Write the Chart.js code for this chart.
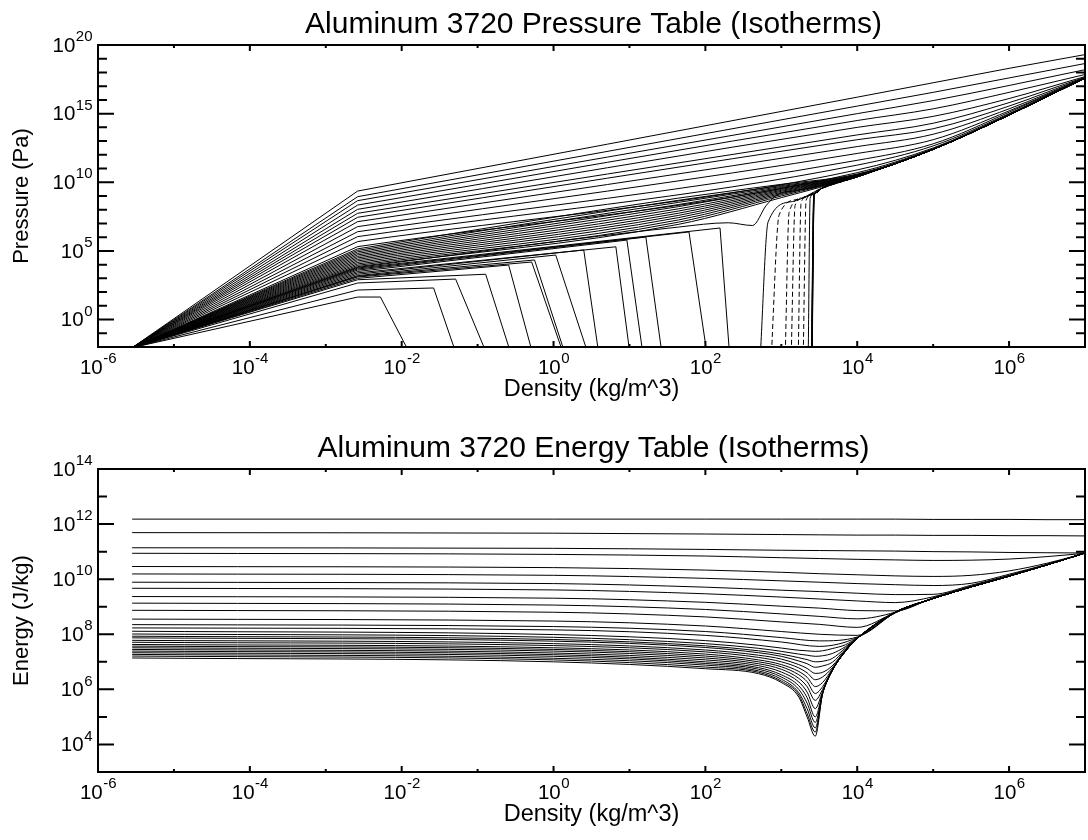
<!DOCTYPE html>
<html>
<head>
<meta charset="utf-8">
<title>Aluminum 3720 isotherms</title>
<script src="https://cdn.jsdelivr.net/npm/chart.js@4.4.1/dist/chart.umd.min.js"></script>
<style>
  html, body { margin: 0; padding: 0; background: #fff; }
  canvas { display: block; }
</style>
</head>
<body>
<canvas id="pressureChart" width="1088" height="420" style="width:1088px;height:420px"></canvas>
<canvas id="energyChart" width="1088" height="420" style="width:1088px;height:420px"></canvas>
<script>
// Valores, guardados como exponentes de 10 (log10)

// Ejes
const densityTicks = [-6, -4, -2, 0, 2, 4, 6];
const densityMinorTicks = [-5, -3, -1, 1, 3, 5];
const pressureTicks = [0, 5, 10, 15, 20];
const pressureMinorTicks = [-1, 1, 2, 3, 4, 6, 7, 8, 9, 11, 12, 13, 14, 16, 17, 18, 19];
const energyTicks = [4, 6, 8, 10, 12, 14];
const energyMinorTicks = [5, 7, 9, 11, 13];

// ---------- Tabla de presión ----------
// Punto común de arranque de todas las isotermas
const pressureStart = [-5.55, -2.05];
const kneeDensity = -2.58;

// Isotermas calientes: codo y valores en rho = 1e4, 1e5, 1e6, 1e7
const hotKnee = [9.36, 8.95, 8.66, 8.34, 8.03, 7.74, 7.45, 7.13, 6.77, 6.40, 6.04, 5.68, 5.31];
const hotAt1e4 = [16.2, 15.55, 15.0, 14.5, 14.0, 13.45, 13.1, 12.6, 12.1, 11.6, 11.25, 10.9, 10.7];
const hotAt1e5 = [17.25, 16.55, 15.95, 15.35, 14.8, 14.3, 13.9, 13.5, 13.1, 12.8, 12.65, 12.5, 12.45];
const hotAt1e6 = [18.3, 17.6, 17.05, 16.55, 16.1, 15.8, 15.55, 15.35, 15.2, 15.1, 15.0, 14.95, 14.92];
const hotAt1e7 = [19.3, 18.65, 18.2, 17.85, 17.7, 17.65, 17.62, 17.6, 17.6, 17.6, 17.6, 17.6, 17.6];

// Banda gris: codo y valores en rho = 45, 1e3, 1e4
const bandKnee = [5.15, 5.04, 4.93, 4.82, 4.71, 4.60, 4.49, 4.38, 4.27, 4.16, 4.05, 3.95, 3.86];
const bandAt45 = [8.85, 8.69, 8.54, 8.38, 8.23, 8.07, 7.91, 7.75, 7.59, 7.43, 7.26, 7.10, 6.94];
const bandAt1e3 = [9.85, 9.76, 9.69, 9.62, 9.55, 9.48, 9.41, 9.34, 9.26, 9.18, 9.10, 9.00, 8.88];
const bandAt1e4 = [10.6, 10.57, 10.54, 10.52, 10.5, 10.49, 10.48, 10.47, 10.46, 10.45, 10.44, 10.43, 10.42];

// Isoterma con el valle antes de la densidad del sólido
const criticalLine = [[-2.58, 3.8], [1.65, 6.74], [2.3, 7.05], [2.62, 6.85], [2.8, 8.3], [2.95, 9.1], [3.2, 9.4], [3.53, 9.75], [4, 10.42]];

// Curva fría común (rho, P)
const coldDensities = [3.53, 4, 5, 6, 7];
const coldPressure = [9.55, 10.4, 12.4, 14.9, 17.6];

// Rama de vapor: codo, borde del tramo plano y caída
const vaporKnee = [1.64, 2.15, 2.66, 2.9, 3.0, 3.1, 3.15, 3.2, 3.3, 3.4, 3.5, 3.6, 3.68, 3.75];
const vaporEdgeDensity = [-2.28, -1.58, -1.29, -0.894, -0.591, -0.288, -0.25, 0.029, 0.398, 0.821, 0.966, 1.216, 1.784, 2.193];
const vaporEdgePressure = [1.64, 2.30, 2.95, 3.30, 3.97, 4.19, 4.34, 4.70, 5.07, 5.30, 5.79, 6.01, 6.38, 6.67];
const vaporDropDensity = [-1.844, -1.251, -0.842, -0.532, -0.25, 0.161, 0.181, 0.484, 0.609, 1.018, 1.19, 1.441, 2.034, 2.325];

// Rama líquida: pie, tope del tramo vertical y unión con la curva fría
const liquidFoot = [3.406, 3.404, 3.402, 3.40, 3.40, 3.398, 3.396, 3.354, 3.288, 3.222, 3.129, 3.05, 2.865, 2.72];
const liquidTopDensity = [3.433, 3.433, 3.432, 3.43, 3.43, 3.428, 3.427, 3.38, 3.327, 3.261, 3.182, 3.103, 2.971, 2.826];
const liquidTopPressure = [9.0, 9.0, 9.0, 9.0, 9.0, 9.0, 9.0, 8.85, 8.7, 8.56, 8.34, 7.83, 7.62, 7.11];
const liquidJoinDensity = [3.46, 3.46, 3.46, 3.46, 3.46, 3.46, 3.46, 3.43, 3.41, 3.38, 3.33, 3.28, 3.22, 3.15];
const liquidJoinPressure = [9.25, 9.25, 9.25, 9.25, 9.25, 9.25, 9.25, 9.15, 9.1, 9.05, 8.95, 8.85, 8.75, 8.6];

// ---------- Tabla de energía ----------
const upperEnergyDensities = [-5.55, 0, 2, 3, 3.5, 4, 4.5, 5, 5.5, 6, 6.5, 7];
const upperEnergy = [
    [12.18, 12.18, 12.18, 12.18, 12.18, 12.18, 12.18, 12.17, 12.17, 12.17, 12.16, 12.16],
    [11.69, 11.67, 11.64, 11.62, 11.61, 11.60, 11.60, 11.59, 11.59, 11.58, 11.58, 11.57],
    [11.14, 11.12, 11.08, 11.05, 11.04, 11.03, 11.02, 11.00, 10.99, 10.97, 10.96, 10.95],
    [10.94, 10.90, 10.84, 10.78, 10.75, 10.72, 10.70, 10.68, 10.69, 10.73, 10.82, 10.94],
    [10.46, 10.42, 10.33, 10.25, 10.20, 10.16, 10.12, 10.10, 10.14, 10.30, 10.58, 10.94],
    [10.19, 10.14, 10.03, 9.94, 9.89, 9.84, 9.80, 9.77, 9.85, 10.18, 10.54, 10.94],
    [9.89, 9.84, 9.71, 9.60, 9.55, 9.49, 9.44, 9.45, 9.78, 10.14, 10.53, 10.95],
    [9.67, 9.61, 9.47, 9.35, 9.28, 9.21, 9.15, 9.36, 9.75, 10.13, 10.53, 10.95],
    [9.37, 9.31, 9.16, 9.02, 8.95, 8.86, 8.85, 9.32, 9.73, 10.12, 10.52, 10.95],
    [9.13, 9.06, 8.90, 8.74, 8.65, 8.56, 8.80, 9.31, 9.72, 10.12, 10.52, 10.95],
    [8.87, 8.80, 8.63, 8.45, 8.36, 8.25, 8.79, 9.30, 9.72, 10.11, 10.52, 10.95],
    [8.55, 8.48, 8.30, 8.10, 8.00, 7.96, 8.78, 9.30, 9.72, 10.11, 10.52, 10.95],
    [8.35, 8.28, 8.10, 7.88, 7.76, 7.90, 8.78, 9.30, 9.72, 10.11, 10.52, 10.95],
    [8.23, 8.16, 7.96, 7.72, 7.56, 7.88, 8.78, 9.30, 9.72, 10.11, 10.52, 10.95]
];

const dipEnergyDensities = [-5.55, 0, 2, 2.7, 3.0, 3.23, 3.34, 3.447, 3.544, 3.67, 3.845, 4.0];
const dipEnergy = [
    [8.11, 7.99, 7.77, 7.60, 7.50, 7.42, 7.40, 7.38, 7.40, 7.48, 7.62, 7.87],
    [8.01, 7.89, 7.66, 7.49, 7.38, 7.28, 7.24, 7.20, 7.22, 7.30, 7.55, 7.86],
    [7.93, 7.81, 7.58, 7.40, 7.28, 7.15, 7.08, 7.00, 7.02, 7.12, 7.50, 7.86],
    [7.87, 7.75, 7.52, 7.33, 7.20, 7.03, 6.93, 6.80, 6.85, 6.98, 7.46, 7.86],
    [7.78, 7.66, 7.43, 7.24, 7.10, 6.90, 6.76, 6.58, 6.62, 6.85, 7.43, 7.85],
    [7.71, 7.59, 7.36, 7.16, 7.00, 6.78, 6.60, 6.35, 6.45, 6.78, 7.42, 7.85],
    [7.63, 7.51, 7.28, 7.07, 6.90, 6.65, 6.44, 6.10, 6.25, 6.73, 7.41, 7.85],
    [7.57, 7.45, 7.21, 7.00, 6.82, 6.53, 6.28, 5.85, 6.10, 6.70, 7.40, 7.85],
    [7.51, 7.39, 7.14, 6.93, 6.73, 6.40, 6.10, 5.60, 6.00, 6.69, 7.40, 7.85],
    [7.45, 7.32, 7.07, 6.86, 6.63, 6.27, 5.90, 5.30, 5.93, 6.68, 7.39, 7.85],
    [7.39, 7.26, 7.00, 6.79, 6.53, 6.13, 5.70, 5.00, 5.88, 6.68, 7.39, 7.85],
    [7.33, 7.20, 6.94, 6.73, 6.45, 6.00, 5.50, 4.80, 5.86, 6.68, 7.38, 7.85],
    [7.27, 7.13, 6.88, 6.67, 6.37, 5.88, 5.30, 4.60, 5.85, 6.68, 7.38, 7.85],
    [7.21, 7.07, 6.81, 6.62, 6.30, 5.80, 5.12, 4.45, 5.84, 6.68, 7.38, 7.85],
    [7.14, 7.00, 6.75, 6.57, 6.25, 5.72, 5.00, 4.30, 5.84, 6.68, 7.38, 7.85]
];
const coldEnergyDensities = [4.48, 5, 5.5, 6, 6.5, 7];
const coldEnergy = [8.77, 9.3, 9.72, 10.11, 10.52, 10.95];

const black = '#000';
const fontFamily = '"Liberation Sans", Arial, Helvetica, sans-serif';

// Convertir pares (log10 rho, log10 valor) a puntos
function toPoints(pairs) {
    return pairs.map(p => ({ x: Math.pow(10, p[0]), y: Math.pow(10, p[1]) }));
}

// Tramo recto (codos marcados) o suave (curvas que convergen)
function line(pairs, smooth, dash) {
    const ds = {
        data: toPoints(pairs),
        borderColor: black,
        borderWidth: 1,
        borderDash: dash || [],
        pointRadius: 0,
        fill: false,
        tension: 0
    };
    if (smooth) ds.cubicInterpolationMode = 'monotone';
    return ds;
}

function zip(xs, ys) {
    return xs.map((x, i) => [x, ys[i]]);
}

// Datasets de presión
const pressureSets = [];
const coldPairs = zip(coldDensities, coldPressure);

hotKnee.forEach((k, i) => {
    pressureSets.push(line([pressureStart, [kneeDensity, k]], false));
    pressureSets.push(line([[kneeDensity, k], [4, hotAt1e4[i]], [5, hotAt1e5[i]], [6, hotAt1e6[i]], [7, hotAt1e7[i]]], true));
});

bandKnee.forEach((k, i) => {
    pressureSets.push(line([pressureStart, [kneeDensity, k]], false));
    pressureSets.push(line([[kneeDensity, k], [1.65, bandAt45[i]], [3, bandAt1e3[i]], [4, bandAt1e4[i]]].concat(coldPairs.slice(2)), true));
});

pressureSets.push(line([pressureStart, criticalLine[0]], false));
pressureSets.push(line(criticalLine.concat(coldPairs.slice(2)), true));

vaporKnee.forEach((k, i) => {
    pressureSets.push(line([pressureStart, [kneeDensity, k], [vaporEdgeDensity[i], vaporEdgePressure[i]], [vaporDropDensity[i], -3]], false));
    const dash = i >= 8 && i <= 12 ? [5, 3] : [];
    pressureSets.push(line([[liquidFoot[i], -3], [liquidTopDensity[i], liquidTopPressure[i]], [liquidJoinDensity[i], liquidJoinPressure[i]]].concat(coldPairs), true, dash));
});

// Datasets de energía
const energySets = [];
upperEnergy.forEach(row => {
    energySets.push(line(zip(upperEnergyDensities, row), true));
});
dipEnergy.forEach(row => {
    energySets.push(line(zip(dipEnergyDensities, row).concat(zip(coldEnergyDensities, coldEnergy)), true));
});

// Etiqueta 10^n con superíndice
function tickLabel(ctx, exp, x, y, align) {
    const base = '10';
    const sup = String(exp);
    ctx.font = '20.5px ' + fontFamily;
    const wb = ctx.measureText(base).width;
    ctx.font = '15px ' + fontFamily;
    const ws = ctx.measureText(sup).width;
    const left = align === 'center' ? x - (wb + ws) / 2 : x - wb - ws;
    ctx.textAlign = 'left';
    ctx.textBaseline = 'middle';
    ctx.font = '20.5px ' + fontFamily;
    ctx.fillText(base, left, y);
    ctx.font = '15px ' + fontFamily;
    ctx.fillText(sup, left + wb + 0.5, y - 9);
}

// Marco, marcas hacia dentro, etiquetas y títulos al estilo IDL
const marcoPlugin = {
    id: 'marco',
    afterDatasetsDraw(chart, args, o) {
        const { ctx, chartArea: a } = chart;
        const xs = chart.scales.x, ys = chart.scales.y;
        ctx.save();
        ctx.strokeStyle = black;
        ctx.fillStyle = black;

        ctx.lineWidth = 2;
        ctx.beginPath();
        densityTicks.forEach(e => {
            const x = xs.getPixelForValue(Math.pow(10, e));
            ctx.moveTo(x, a.bottom); ctx.lineTo(x, a.bottom - 6);
            ctx.moveTo(x, a.top); ctx.lineTo(x, a.top + 6);
        });
        densityMinorTicks.forEach(e => {
            const x = xs.getPixelForValue(Math.pow(10, e));
            ctx.moveTo(x, a.bottom); ctx.lineTo(x, a.bottom - 3);
            ctx.moveTo(x, a.top); ctx.lineTo(x, a.top + 3);
        });
        o.yTicks.forEach(e => {
            const y = ys.getPixelForValue(Math.pow(10, e));
            ctx.moveTo(a.left, y); ctx.lineTo(a.left + 16, y);
            ctx.moveTo(a.right, y); ctx.lineTo(a.right - 16, y);
        });
        o.yMinor.forEach(e => {
            const y = ys.getPixelForValue(Math.pow(10, e));
            ctx.moveTo(a.left, y); ctx.lineTo(a.left + 9, y);
            ctx.moveTo(a.right, y); ctx.lineTo(a.right - 9, y);
        });
        ctx.stroke();

        ctx.lineWidth = 2;
        ctx.strokeRect(a.left, a.top, a.right - a.left, a.bottom - a.top);

        densityTicks.forEach(e => tickLabel(ctx, e, xs.getPixelForValue(Math.pow(10, e)), a.bottom + 21, 'center'));
        o.yTicks.forEach(e => tickLabel(ctx, e, a.left - 6, ys.getPixelForValue(Math.pow(10, e)) + 1, 'right'));

        ctx.textAlign = 'center';
        ctx.textBaseline = 'middle';
        ctx.font = '30px ' + fontFamily;
        ctx.fillText(o.title, (a.left + a.right) / 2 + 2, a.top - 20);
        ctx.font = '23.5px ' + fontFamily;
        ctx.fillText(o.xTitle, (a.left + a.right) / 2, a.bottom + 43);
        ctx.font = '22px ' + fontFamily;
        ctx.translate(22, (a.top + a.bottom) / 2);
        ctx.rotate(-Math.PI / 2);
        ctx.fillText(o.yTitle, 0, 0);
        ctx.restore();
    }
};

function makeChart(id, datasets, yMin, yMax, padding, frame) {
    return new Chart(document.getElementById(id), {
        type: 'line',
        data: { datasets: datasets },
        options: {
            responsive: false,
            animation: false,
            events: [],
            layout: { padding: padding },
            plugins: {
                legend: { display: false },
                tooltip: { enabled: false },
                marco: frame
            },
            scales: {
                x: { type: 'logarithmic', min: 1e-6, max: 1e7, display: false },
                y: { type: 'logarithmic', min: yMin, max: yMax, display: false }
            }
        },
        plugins: [marcoPlugin]
    });
}

makeChart('pressureChart', pressureSets, 1e-2, 1e20,
    { left: 98, right: 3, top: 45, bottom: 73 },
    {
        title: 'Aluminum 3720 Pressure Table (Isotherms)',
        xTitle: 'Density (kg/m^3)',
        yTitle: 'Pressure (Pa)',
        yTicks: pressureTicks,
        yMinor: pressureMinorTicks
    });

makeChart('energyChart', energySets, 1e3, 1e14,
    { left: 98, right: 3, top: 49, bottom: 68 },
    {
        title: 'Aluminum 3720 Energy Table (Isotherms)',
        xTitle: 'Density (kg/m^3)',
        yTitle: 'Energy (J/kg)',
        yTicks: energyTicks,
        yMinor: energyMinorTicks
    });
</script>
</body>
</html>
